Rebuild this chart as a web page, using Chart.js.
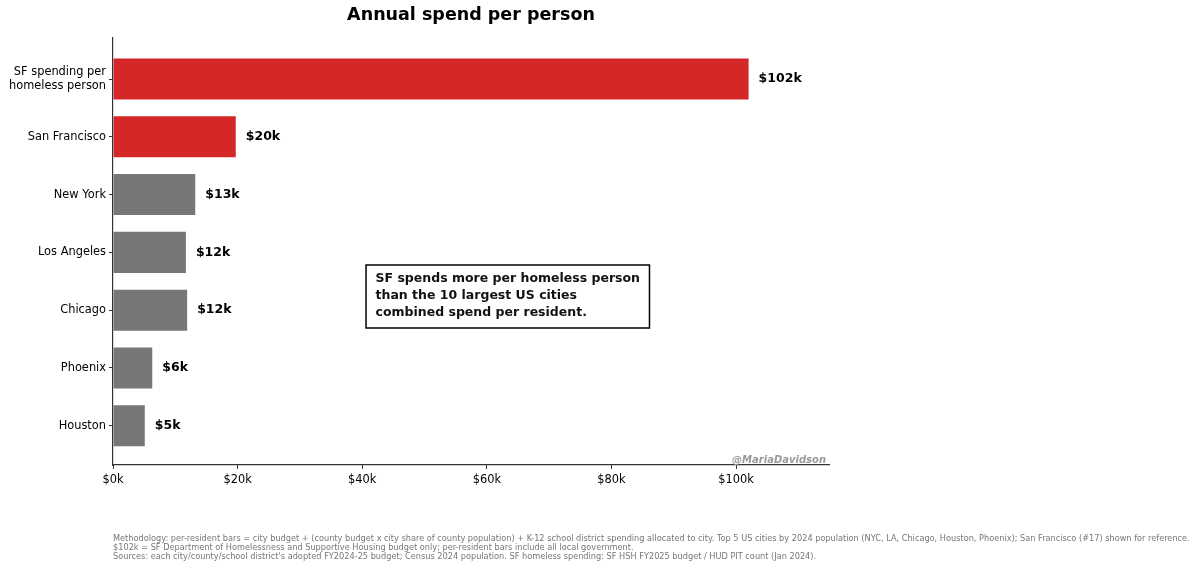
<!DOCTYPE html>
<html>
<head>
<meta charset="utf-8">
<script src="https://cdn.jsdelivr.net/npm/chart.js@4/dist/chart.umd.min.js"></script>
<style>
  html, body { margin: 0; padding: 0; background: #fff; }
  #wrap { position: relative; width: 1200px; height: 568px; }
  #foot { position: absolute; left: 113px; top: 533.5px; font-family: "DejaVu Sans", sans-serif;
          font-size: 8.2px; line-height: 9.2px; color: #777; white-space: pre; }
</style>
</head>
<body>
<div id="wrap">
  <canvas id="c" width="1200" height="568"></canvas>
  <div id="foot">Methodology: per-resident bars = city budget + (county budget x city share of county population) + K-12 school district spending allocated to city. Top 5 US cities by 2024 population (NYC, LA, Chicago, Houston, Phoenix); San Francisco (#17) shown for reference.
$102k = SF Department of Homelessness and Supportive Housing budget only; per-resident bars include all local government.
Sources: each city/county/school district's adopted FY2024-25 budget; Census 2024 population. SF homeless spending: SF HSH FY2025 budget / HUD PIT count (Jan 2024).</div>
</div>
<script>
const categories = [["SF spending per", "homeless person"], "San Francisco", "New York", "Los Angeles", "Chicago", "Phoenix", "Houston"];
const values = [102000, 19700, 13200, 11700, 11900, 6300, 5100];
const barColors = ["#d62728", "#d62728", "#777777", "#777777", "#777777", "#777777", "#777777"];
const xTicks = [0, 20000, 40000, 60000, 80000, 100000];
const titleText = "Annual spend per person";
const noteLines = ["SF spends more per homeless person", "than the 10 largest US cities", "combined spend per resident."];
const watermark = "@MariaDavidson";

const fmtK = v => "$" + Math.round(v / 1000) + "k";

const overlay = {
  id: "overlay",
  afterDatasetsDraw(chart) {
    const ctx = chart.ctx;
    const meta = chart.getDatasetMeta(0);
    const ca = chart.chartArea;
    ctx.save();
    ctx.font = "bold 12.5px 'DejaVu Sans'";
    ctx.fillStyle = "#000";
    ctx.textAlign = "left";
    ctx.textBaseline = "middle";
    meta.data.forEach((bar, i) => {
      ctx.fillText(fmtK(values[i]), bar.x + 10, bar.y);
    });
    const bx = ca.left + 0.3534 * (ca.right - ca.left);
    const by = ca.top + 0.5316 * (ca.bottom - ca.top);
    const pad = 9.5, lh = 17;
    let w = 0;
    noteLines.forEach(l => { w = Math.max(w, ctx.measureText(l).width); });
    const bw = w + 2 * pad, bh = noteLines.length * lh + 12;
    ctx.fillStyle = "#fff";
    ctx.fillRect(bx, by, bw, bh);
    ctx.strokeStyle = "#000";
    ctx.lineWidth = 1.5;
    ctx.strokeRect(bx, by, bw, bh);
    ctx.fillStyle = "#111";
    noteLines.forEach((l, i) => ctx.fillText(l, bx + pad, by + 14 + i * lh));
    ctx.font = "italic bold 10px 'DejaVu Sans'";
    ctx.fillStyle = "#999";
    ctx.textAlign = "right";
    ctx.textBaseline = "alphabetic";
    ctx.fillText(watermark, ca.right - 3, ca.bottom - 2);
    ctx.restore();
  }
};

new Chart(document.getElementById("c"), {
  type: "bar",
  data: {
    datasets: [{
      data: values.map((v, i) => ({ x: v, y: i })),
      backgroundColor: barColors,
      borderWidth: 0,
      barPercentage: 0.71,
      categoryPercentage: 1
    }]
  },
  options: {
    indexAxis: "y",
    responsive: false,
    animation: false,
    devicePixelRatio: 1,
    layout: { padding: { left: 0, right: 371, top: 0, bottom: 0 } },
    plugins: {
      legend: { display: false },
      tooltip: { enabled: false },
      title: {
        display: true,
        text: titleText,
        fullSize: false,
        color: "#000",
        font: { family: "'DejaVu Sans'", size: 17.5, weight: "bold", lineHeight: 1.2 },
        padding: { top: 5, bottom: 12 }
      }
    },
    scales: {
      y: {
        type: "linear",
        reverse: true,
        offset: false,
        min: -0.71,
        max: 6.68,
        afterFit(scale) { scale.width = 113; },
        afterBuildTicks(scale) { scale.ticks = categories.map((c, i) => ({ value: i })); },
        ticks: {
          color: "#000",
          font: { family: "'DejaVu Sans'", size: 11.4, lineHeight: 1.15 },
          padding: 3,
          callback: v => categories[v]
        },
        grid: { offset: false, drawOnChartArea: false, drawTicks: true, tickLength: 4, color: "#333" },
        border: { display: true, color: "#333", width: 1.2 }
      },
      x: {
        type: "linear",
        min: 0,
        max: 114900,
        afterFit(scale) { scale.height = 103; },
        afterBuildTicks(scale) { scale.ticks = xTicks.map(v => ({ value: v })); },
        ticks: {
          color: "#000",
          font: { family: "'DejaVu Sans'", size: 11.4 },
          padding: 4,
          maxRotation: 0,
          includeBounds: false,
          callback: v => fmtK(v)
        },
        grid: { drawOnChartArea: false, drawTicks: true, tickLength: 4, color: "#333" },
        border: { display: true, color: "#333", width: 1.2 }
      }
    }
  },
  plugins: [overlay]
});
</script>
</body>
</html>
